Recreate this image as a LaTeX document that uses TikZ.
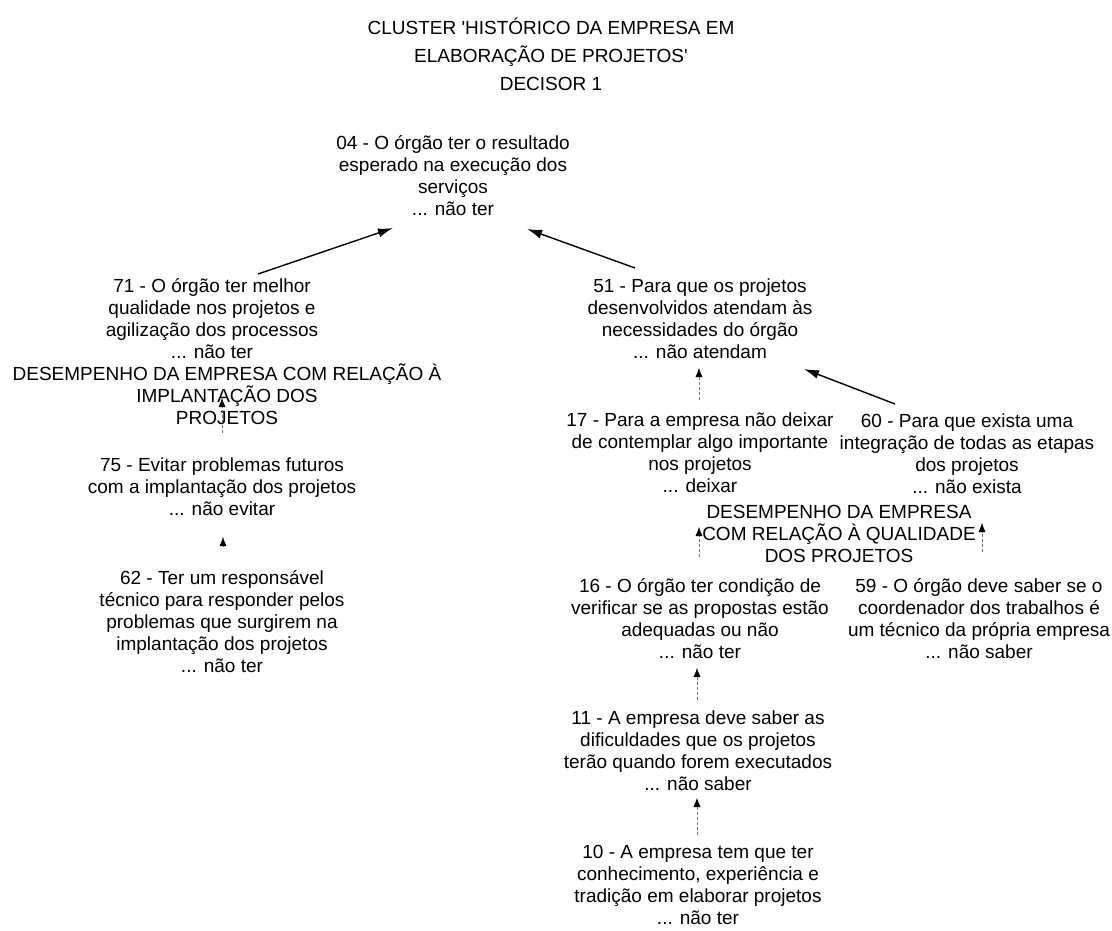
\documentclass[tikz,border=0pt]{standalone}
\usepackage{fontspec}
\setmainfont{Liberation Sans}
\usetikzlibrary{arrows.meta}
\begin{document}
\begin{tikzpicture}[x=1pt,y=-1pt,
  every node/.style={inner sep=0pt, align=center, anchor=north},
  item/.style={font=\fontsize{19}{22}\selectfont},
  cluster/.style={font=\fontsize{19}{22}\selectfont},
  heading/.style={font=\fontsize{19}{28}\selectfont},
  link/.style={line width=1.4pt, -{Latex[length=15pt,width=9pt]}},
  vlink/.style={line width=0.5pt, black!55, dash pattern=on 3pt off 2pt,
                -{Latex[length=9pt,width=7pt,color=black]}}
]
\useasboundingbox (0,0) rectangle (1112,931);

% heading
\node[heading] (title) at (551,18)
  {CLUSTER \textquotesingle HISTÓRICO DA EMPRESA EM\\ELABORAÇÃO DE PROJETOS\textquotesingle\\DECISOR 1};

% concepts
\node[item] (n04) at (453,135)
  {04 - O órgão ter o resultado\\esperado na execução dos\\serviços\\... não ter};
\node[item] (n71) at (212,278)
  {71 - O órgão ter melhor\\qualidade nos projetos e\\agilização dos processos\\... não ter};
\node[item] (n51) at (700,279)
  {51 - Para que os projetos\\desenvolvidos atendam às\\necessidades do órgão\\... não atendam};
\node[cluster] (c1) at (227,364)
  {DESEMPENHO DA EMPRESA COM RELAÇÃO À\\IMPLANTAÇÃO DOS\\PROJETOS};
\node[item] (n75) at (222,458)
  {75 - Evitar problemas futuros\\com a implantação dos projetos\\... não evitar};
\node[item] (n62) at (222,570)
  {62 - Ter um responsável\\técnico para responder pelos\\problemas que surgirem na\\implantação dos projetos\\... não ter};
\node[item] (n17) at (700,413)
  {17 - Para a empresa não deixar\\de contemplar algo importante\\nos projetos\\... deixar};
\node[item] (n60) at (967,414)
  {60 - Para que exista uma\\integração de todas as etapas\\dos projetos\\... não exista};
\node[cluster] (c2) at (839,505)
  {DESEMPENHO DA EMPRESA\\COM RELAÇÃO À QUALIDADE\\DOS PROJETOS};
\node[item] (n16) at (700,578)
  {16 - O órgão ter condição de\\verificar se as propostas estão\\adequadas ou não\\... não ter};
\node[item] (n59) at (979,578)
  {59 - O órgão deve saber se o\\coordenador dos trabalhos é\\um técnico da própria empresa\\... não saber};
\node[item] (n11) at (698,711)
  {11 - A empresa deve saber as\\dificuldades que os projetos\\terão quando forem executados\\... não saber};
\node[item] (n10) at (698,845)
  {10 - A empresa tem que ter\\conhecimento, experiência e\\tradição em elaborar projetos\\... não ter};

% influence links
\draw[link] ([shift={(46,-4)}]n71.north) -- ([shift={(-60,93)}]n04.north);
\draw[link] ([shift={(-65,-11)}]n51.north) -- ([shift={(74,94)}]n04.north);
\draw[link] ([shift={(-72,-10)}]n60.north) -- ([shift={(104,90)}]n51.north);

\draw[vlink] ([shift={(0,-25)}]n75.north) -- ([shift={(10,120)}]n71.north);
\draw[vlink] ([shift={(1,-23)}]n62.north) -- ([shift={(1,79)}]n75.north);
\draw[vlink] ([shift={(-1,-13)}]n17.north) -- ([shift={(-1,89)}]n51.north);
\draw[vlink] ([shift={(-1,-21)}]n16.north) -- ([shift={(-140,22)}]c2.north);
\draw[vlink] ([shift={(3,-26)}]n59.north) -- ([shift={(143,18)}]c2.north);
\draw[vlink] ([shift={(-1,-11)}]n11.north) -- ([shift={(-3,90)}]n16.north);
\draw[vlink] ([shift={(-1,-10)}]n10.north) -- ([shift={(-1,87)}]n11.north);
\end{tikzpicture}
\end{document}
